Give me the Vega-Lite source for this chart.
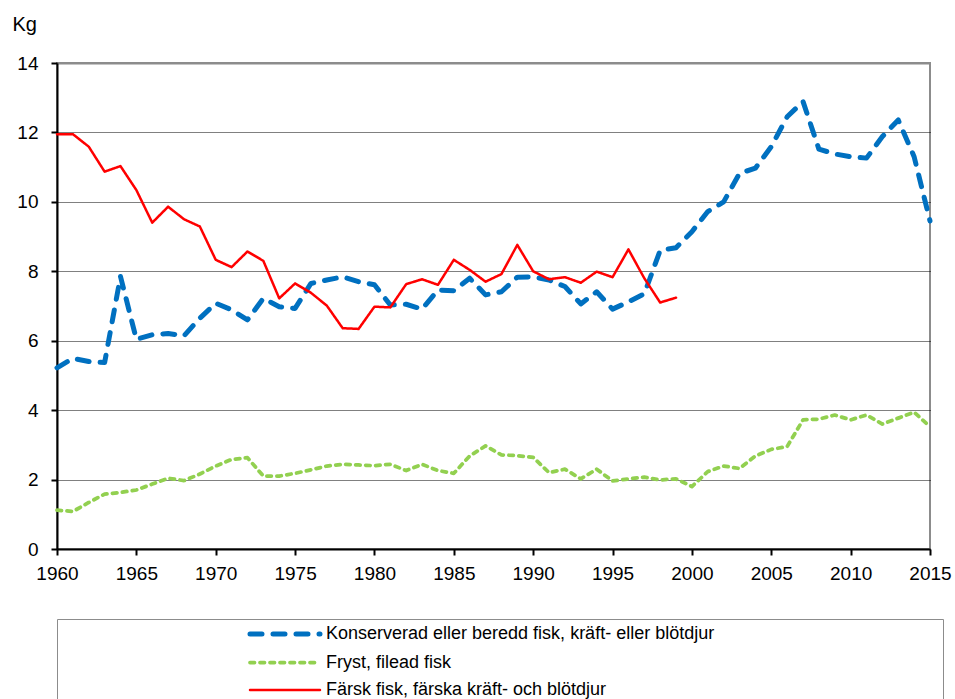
{
  "$schema": "https://vega.github.io/schema/vega-lite/v6.json",
  "width": 873,
  "height": 486,
  "autosize": {"type": "none"},
  "padding": {"left": 57, "top": 63, "right": 25, "bottom": 150},
  "background": "white",
  "config": {
    "view": {"stroke": "#8c8c8c", "strokeWidth": 2},
    "font": "Liberation Sans"
  },
  "data": {
    "values": [
      {"year": 1960, "serie": "Konserverad eller beredd fisk, kräft- eller blötdjur", "kg": 5.22},
      {"year": 1961, "serie": "Konserverad eller beredd fisk, kräft- eller blötdjur", "kg": 5.49},
      {"year": 1962, "serie": "Konserverad eller beredd fisk, kräft- eller blötdjur", "kg": 5.40},
      {"year": 1963, "serie": "Konserverad eller beredd fisk, kräft- eller blötdjur", "kg": 5.37},
      {"year": 1964, "serie": "Konserverad eller beredd fisk, kräft- eller blötdjur", "kg": 7.85},
      {"year": 1965, "serie": "Konserverad eller beredd fisk, kräft- eller blötdjur", "kg": 6.04},
      {"year": 1966, "serie": "Konserverad eller beredd fisk, kräft- eller blötdjur", "kg": 6.17},
      {"year": 1967, "serie": "Konserverad eller beredd fisk, kräft- eller blötdjur", "kg": 6.21},
      {"year": 1968, "serie": "Konserverad eller beredd fisk, kräft- eller blötdjur", "kg": 6.14},
      {"year": 1969, "serie": "Konserverad eller beredd fisk, kräft- eller blötdjur", "kg": 6.65},
      {"year": 1970, "serie": "Konserverad eller beredd fisk, kräft- eller blötdjur", "kg": 7.08},
      {"year": 1971, "serie": "Konserverad eller beredd fisk, kräft- eller blötdjur", "kg": 6.89},
      {"year": 1972, "serie": "Konserverad eller beredd fisk, kräft- eller blötdjur", "kg": 6.60},
      {"year": 1973, "serie": "Konserverad eller beredd fisk, kräft- eller blötdjur", "kg": 7.22},
      {"year": 1974, "serie": "Konserverad eller beredd fisk, kräft- eller blötdjur", "kg": 6.98},
      {"year": 1975, "serie": "Konserverad eller beredd fisk, kräft- eller blötdjur", "kg": 6.93},
      {"year": 1976, "serie": "Konserverad eller beredd fisk, kräft- eller blötdjur", "kg": 7.65},
      {"year": 1977, "serie": "Konserverad eller beredd fisk, kräft- eller blötdjur", "kg": 7.75},
      {"year": 1978, "serie": "Konserverad eller beredd fisk, kräft- eller blötdjur", "kg": 7.84},
      {"year": 1979, "serie": "Konserverad eller beredd fisk, kräft- eller blötdjur", "kg": 7.70},
      {"year": 1980, "serie": "Konserverad eller beredd fisk, kräft- eller blötdjur", "kg": 7.61},
      {"year": 1981, "serie": "Konserverad eller beredd fisk, kräft- eller blötdjur", "kg": 7.03},
      {"year": 1982, "serie": "Konserverad eller beredd fisk, kräft- eller blötdjur", "kg": 7.05},
      {"year": 1983, "serie": "Konserverad eller beredd fisk, kräft- eller blötdjur", "kg": 6.91},
      {"year": 1984, "serie": "Konserverad eller beredd fisk, kräft- eller blötdjur", "kg": 7.46},
      {"year": 1985, "serie": "Konserverad eller beredd fisk, kräft- eller blötdjur", "kg": 7.44},
      {"year": 1986, "serie": "Konserverad eller beredd fisk, kräft- eller blötdjur", "kg": 7.80},
      {"year": 1987, "serie": "Konserverad eller beredd fisk, kräft- eller blötdjur", "kg": 7.32},
      {"year": 1988, "serie": "Konserverad eller beredd fisk, kräft- eller blötdjur", "kg": 7.41},
      {"year": 1989, "serie": "Konserverad eller beredd fisk, kräft- eller blötdjur", "kg": 7.83},
      {"year": 1990, "serie": "Konserverad eller beredd fisk, kräft- eller blötdjur", "kg": 7.84},
      {"year": 1991, "serie": "Konserverad eller beredd fisk, kräft- eller blötdjur", "kg": 7.75},
      {"year": 1992, "serie": "Konserverad eller beredd fisk, kräft- eller blötdjur", "kg": 7.56},
      {"year": 1993, "serie": "Konserverad eller beredd fisk, kräft- eller blötdjur", "kg": 7.06},
      {"year": 1994, "serie": "Konserverad eller beredd fisk, kräft- eller blötdjur", "kg": 7.41},
      {"year": 1995, "serie": "Konserverad eller beredd fisk, kräft- eller blötdjur", "kg": 6.91},
      {"year": 1996, "serie": "Konserverad eller beredd fisk, kräft- eller blötdjur", "kg": 7.12},
      {"year": 1997, "serie": "Konserverad eller beredd fisk, kräft- eller blötdjur", "kg": 7.35},
      {"year": 1998, "serie": "Konserverad eller beredd fisk, kräft- eller blötdjur", "kg": 8.60},
      {"year": 1999, "serie": "Konserverad eller beredd fisk, kräft- eller blötdjur", "kg": 8.68},
      {"year": 2000, "serie": "Konserverad eller beredd fisk, kräft- eller blötdjur", "kg": 9.14},
      {"year": 2001, "serie": "Konserverad eller beredd fisk, kräft- eller blötdjur", "kg": 9.72},
      {"year": 2002, "serie": "Konserverad eller beredd fisk, kräft- eller blötdjur", "kg": 10.0},
      {"year": 2003, "serie": "Konserverad eller beredd fisk, kräft- eller blötdjur", "kg": 10.82},
      {"year": 2004, "serie": "Konserverad eller beredd fisk, kräft- eller blötdjur", "kg": 10.97},
      {"year": 2005, "serie": "Konserverad eller beredd fisk, kräft- eller blötdjur", "kg": 11.59},
      {"year": 2006, "serie": "Konserverad eller beredd fisk, kräft- eller blötdjur", "kg": 12.45},
      {"year": 2007, "serie": "Konserverad eller beredd fisk, kräft- eller blötdjur", "kg": 12.89},
      {"year": 2008, "serie": "Konserverad eller beredd fisk, kräft- eller blötdjur", "kg": 11.52},
      {"year": 2009, "serie": "Konserverad eller beredd fisk, kräft- eller blötdjur", "kg": 11.38},
      {"year": 2010, "serie": "Konserverad eller beredd fisk, kräft- eller blötdjur", "kg": 11.30},
      {"year": 2011, "serie": "Konserverad eller beredd fisk, kräft- eller blötdjur", "kg": 11.26},
      {"year": 2012, "serie": "Konserverad eller beredd fisk, kräft- eller blötdjur", "kg": 11.88},
      {"year": 2013, "serie": "Konserverad eller beredd fisk, kräft- eller blötdjur", "kg": 12.36},
      {"year": 2014, "serie": "Konserverad eller beredd fisk, kräft- eller blötdjur", "kg": 11.30},
      {"year": 2015, "serie": "Konserverad eller beredd fisk, kräft- eller blötdjur", "kg": 9.45},
      {"year": 1960, "serie": "Fryst, filead fisk", "kg": 1.12},
      {"year": 1961, "serie": "Fryst, filead fisk", "kg": 1.08},
      {"year": 1962, "serie": "Fryst, filead fisk", "kg": 1.34},
      {"year": 1963, "serie": "Fryst, filead fisk", "kg": 1.58},
      {"year": 1964, "serie": "Fryst, filead fisk", "kg": 1.63},
      {"year": 1965, "serie": "Fryst, filead fisk", "kg": 1.70},
      {"year": 1966, "serie": "Fryst, filead fisk", "kg": 1.87},
      {"year": 1967, "serie": "Fryst, filead fisk", "kg": 2.04},
      {"year": 1968, "serie": "Fryst, filead fisk", "kg": 1.97},
      {"year": 1969, "serie": "Fryst, filead fisk", "kg": 2.16},
      {"year": 1970, "serie": "Fryst, filead fisk", "kg": 2.39},
      {"year": 1971, "serie": "Fryst, filead fisk", "kg": 2.58},
      {"year": 1972, "serie": "Fryst, filead fisk", "kg": 2.63},
      {"year": 1973, "serie": "Fryst, filead fisk", "kg": 2.10},
      {"year": 1974, "serie": "Fryst, filead fisk", "kg": 2.10},
      {"year": 1975, "serie": "Fryst, filead fisk", "kg": 2.18},
      {"year": 1976, "serie": "Fryst, filead fisk", "kg": 2.28},
      {"year": 1977, "serie": "Fryst, filead fisk", "kg": 2.39},
      {"year": 1978, "serie": "Fryst, filead fisk", "kg": 2.44},
      {"year": 1979, "serie": "Fryst, filead fisk", "kg": 2.42},
      {"year": 1980, "serie": "Fryst, filead fisk", "kg": 2.40},
      {"year": 1981, "serie": "Fryst, filead fisk", "kg": 2.44},
      {"year": 1982, "serie": "Fryst, filead fisk", "kg": 2.26},
      {"year": 1983, "serie": "Fryst, filead fisk", "kg": 2.44},
      {"year": 1984, "serie": "Fryst, filead fisk", "kg": 2.26},
      {"year": 1985, "serie": "Fryst, filead fisk", "kg": 2.18},
      {"year": 1986, "serie": "Fryst, filead fisk", "kg": 2.68},
      {"year": 1987, "serie": "Fryst, filead fisk", "kg": 2.97},
      {"year": 1988, "serie": "Fryst, filead fisk", "kg": 2.71},
      {"year": 1989, "serie": "Fryst, filead fisk", "kg": 2.69},
      {"year": 1990, "serie": "Fryst, filead fisk", "kg": 2.64},
      {"year": 1991, "serie": "Fryst, filead fisk", "kg": 2.20},
      {"year": 1992, "serie": "Fryst, filead fisk", "kg": 2.30},
      {"year": 1993, "serie": "Fryst, filead fisk", "kg": 2.02},
      {"year": 1994, "serie": "Fryst, filead fisk", "kg": 2.30},
      {"year": 1995, "serie": "Fryst, filead fisk", "kg": 1.96},
      {"year": 1996, "serie": "Fryst, filead fisk", "kg": 2.02},
      {"year": 1997, "serie": "Fryst, filead fisk", "kg": 2.07},
      {"year": 1998, "serie": "Fryst, filead fisk", "kg": 1.99},
      {"year": 1999, "serie": "Fryst, filead fisk", "kg": 2.02},
      {"year": 2000, "serie": "Fryst, filead fisk", "kg": 1.80},
      {"year": 2001, "serie": "Fryst, filead fisk", "kg": 2.23},
      {"year": 2002, "serie": "Fryst, filead fisk", "kg": 2.39},
      {"year": 2003, "serie": "Fryst, filead fisk", "kg": 2.32},
      {"year": 2004, "serie": "Fryst, filead fisk", "kg": 2.68},
      {"year": 2005, "serie": "Fryst, filead fisk", "kg": 2.87},
      {"year": 2006, "serie": "Fryst, filead fisk", "kg": 2.95},
      {"year": 2007, "serie": "Fryst, filead fisk", "kg": 3.72},
      {"year": 2008, "serie": "Fryst, filead fisk", "kg": 3.74},
      {"year": 2009, "serie": "Fryst, filead fisk", "kg": 3.86},
      {"year": 2010, "serie": "Fryst, filead fisk", "kg": 3.72},
      {"year": 2011, "serie": "Fryst, filead fisk", "kg": 3.86},
      {"year": 2012, "serie": "Fryst, filead fisk", "kg": 3.60},
      {"year": 2013, "serie": "Fryst, filead fisk", "kg": 3.77},
      {"year": 2014, "serie": "Fryst, filead fisk", "kg": 3.94},
      {"year": 2015, "serie": "Fryst, filead fisk", "kg": 3.52},
      {"year": 1960, "serie": "Färsk fisk, färska kräft- och blötdjur", "kg": 11.95},
      {"year": 1961, "serie": "Färsk fisk, färska kräft- och blötdjur", "kg": 11.95},
      {"year": 1962, "serie": "Färsk fisk, färska kräft- och blötdjur", "kg": 11.59},
      {"year": 1963, "serie": "Färsk fisk, färska kräft- och blötdjur", "kg": 10.87},
      {"year": 1964, "serie": "Färsk fisk, färska kräft- och blötdjur", "kg": 11.03},
      {"year": 1965, "serie": "Färsk fisk, färska kräft- och blötdjur", "kg": 10.34},
      {"year": 1966, "serie": "Färsk fisk, färska kräft- och blötdjur", "kg": 9.40},
      {"year": 1967, "serie": "Färsk fisk, färska kräft- och blötdjur", "kg": 9.86},
      {"year": 1968, "serie": "Färsk fisk, färska kräft- och blötdjur", "kg": 9.50},
      {"year": 1969, "serie": "Färsk fisk, färska kräft- och blötdjur", "kg": 9.29},
      {"year": 1970, "serie": "Färsk fisk, färska kräft- och blötdjur", "kg": 8.33},
      {"year": 1971, "serie": "Färsk fisk, färska kräft- och blötdjur", "kg": 8.12},
      {"year": 1972, "serie": "Färsk fisk, färska kräft- och blötdjur", "kg": 8.57},
      {"year": 1973, "serie": "Färsk fisk, färska kräft- och blötdjur", "kg": 8.30},
      {"year": 1974, "serie": "Färsk fisk, färska kräft- och blötdjur", "kg": 7.22},
      {"year": 1975, "serie": "Färsk fisk, färska kräft- och blötdjur", "kg": 7.65},
      {"year": 1976, "serie": "Färsk fisk, färska kräft- och blötdjur", "kg": 7.38},
      {"year": 1977, "serie": "Färsk fisk, färska kräft- och blötdjur", "kg": 7.01},
      {"year": 1978, "serie": "Färsk fisk, färska kräft- och blötdjur", "kg": 6.36},
      {"year": 1979, "serie": "Färsk fisk, färska kräft- och blötdjur", "kg": 6.34},
      {"year": 1980, "serie": "Färsk fisk, färska kräft- och blötdjur", "kg": 6.98},
      {"year": 1981, "serie": "Färsk fisk, färska kräft- och blötdjur", "kg": 6.96},
      {"year": 1982, "serie": "Färsk fisk, färska kräft- och blötdjur", "kg": 7.63},
      {"year": 1983, "serie": "Färsk fisk, färska kräft- och blötdjur", "kg": 7.77},
      {"year": 1984, "serie": "Färsk fisk, färska kräft- och blötdjur", "kg": 7.61},
      {"year": 1985, "serie": "Färsk fisk, färska kräft- och blötdjur", "kg": 8.33},
      {"year": 1986, "serie": "Färsk fisk, färska kräft- och blötdjur", "kg": 8.04},
      {"year": 1987, "serie": "Färsk fisk, färska kräft- och blötdjur", "kg": 7.70},
      {"year": 1988, "serie": "Färsk fisk, färska kräft- och blötdjur", "kg": 7.92},
      {"year": 1989, "serie": "Färsk fisk, färska kräft- och blötdjur", "kg": 8.76},
      {"year": 1990, "serie": "Färsk fisk, färska kräft- och blötdjur", "kg": 8.00},
      {"year": 1991, "serie": "Färsk fisk, färska kräft- och blötdjur", "kg": 7.77},
      {"year": 1992, "serie": "Färsk fisk, färska kräft- och blötdjur", "kg": 7.83},
      {"year": 1993, "serie": "Färsk fisk, färska kräft- och blötdjur", "kg": 7.67},
      {"year": 1994, "serie": "Färsk fisk, färska kräft- och blötdjur", "kg": 7.99},
      {"year": 1995, "serie": "Färsk fisk, färska kräft- och blötdjur", "kg": 7.83},
      {"year": 1996, "serie": "Färsk fisk, färska kräft- och blötdjur", "kg": 8.63},
      {"year": 1997, "serie": "Färsk fisk, färska kräft- och blötdjur", "kg": 7.80},
      {"year": 1998, "serie": "Färsk fisk, färska kräft- och blötdjur", "kg": 7.10},
      {"year": 1999, "serie": "Färsk fisk, färska kräft- och blötdjur", "kg": 7.24}
    ]
  },
  "mark": {"type": "line", "strokeCap": "round", "strokeJoin": "round"},
  "encoding": {
    "x": {
      "field": "year",
      "type": "quantitative",
      "scale": {"domain": [1960, 2015], "nice": false, "zero": false},
      "axis": {
        "values": [1960, 1965, 1970, 1975, 1980, 1985, 1990, 1995, 2000, 2005, 2010, 2015],
        "format": "d",
        "title": null,
        "grid": false,
        "domainColor": "black",
        "domainWidth": 2,
        "tickColor": "black",
        "tickWidth": 2,
        "tickSize": 6,
        "labelFont": "Liberation Sans",
        "labelFontSize": 19,
        "labelColor": "black",
        "labelPadding": 9,
        "labelFlush": false,
        "labelOverlap": false
      }
    },
    "y": {
      "field": "kg",
      "type": "quantitative",
      "scale": {"domain": [0, 14], "nice": false},
      "axis": {
        "values": [0, 2, 4, 6, 8, 10, 12, 14],
        "title": "Kg",
        "titleAngle": 0,
        "titleX": -45,
        "titleY": -33,
        "titleAlign": "left",
        "titleBaseline": "alphabetic",
        "titleFont": "Liberation Sans",
        "titleFontSize": 20,
        "titleFontWeight": "normal",
        "titleColor": "black",
        "domainColor": "black",
        "domainWidth": 2,
        "tickColor": "black",
        "tickWidth": 2,
        "tickSize": 6,
        "labelFont": "Liberation Sans",
        "labelFontSize": 19,
        "labelColor": "black",
        "labelPadding": 13,
        "labelFlush": false,
        "labelOverlap": false,
        "grid": true,
        "gridColor": {"condition": {"test": "datum.value == 14", "value": "#8c8c8c"}, "value": "black"},
        "gridDash": {"condition": {"test": "datum.value == 14", "value": []}, "value": [1, 1]},
        "gridWidth": {"condition": {"test": "datum.value == 14", "value": 2}, "value": 1}
      }
    },
    "color": {
      "field": "serie",
      "type": "nominal",
      "scale": {
        "domain": ["Konserverad eller beredd fisk, kräft- eller blötdjur", "Fryst, filead fisk", "Färsk fisk, färska kräft- och blötdjur"],
        "range": ["#0070C0", "#92D050", "#FF0000"]
      },
      "legend": {
        "title": "\u00a0",
        "titleOrient": "right",
        "titlePadding": 226,
        "orient": "none",
        "legendX": 0,
        "legendY": 556,
        "direction": "vertical",
        "strokeColor": "#8c8c8c",
        "fillColor": "white",
        "padding": 3,
        "symbolType": "M-3.684,0H3.684",
        "symbolSize": 361,
        "symbolOffset": 213,
        "labelOffset": 29,
        "labelFont": "Liberation Sans",
        "labelFontSize": 18,
        "labelColor": "black",
        "labelLimit": 0,
        "rowPadding": 7,
        "encode": {"symbols": {"update": {"strokeCap": {"value": "round"}}}}
      }
    },
    "strokeDash": {
      "field": "serie",
      "type": "nominal",
      "scale": {
        "domain": ["Konserverad eller beredd fisk, kräft- eller blötdjur", "Fryst, filead fisk", "Färsk fisk, färska kräft- och blötdjur"],
        "range": [[12, 11], [4.5, 5.5], [1, 0]]
      }
    },
    "strokeWidth": {
      "field": "serie",
      "type": "nominal",
      "scale": {
        "domain": ["Konserverad eller beredd fisk, kräft- eller blötdjur", "Fryst, filead fisk", "Färsk fisk, färska kräft- och blötdjur"],
        "range": [5, 2.5, 2]
      }
    }
  }
}
